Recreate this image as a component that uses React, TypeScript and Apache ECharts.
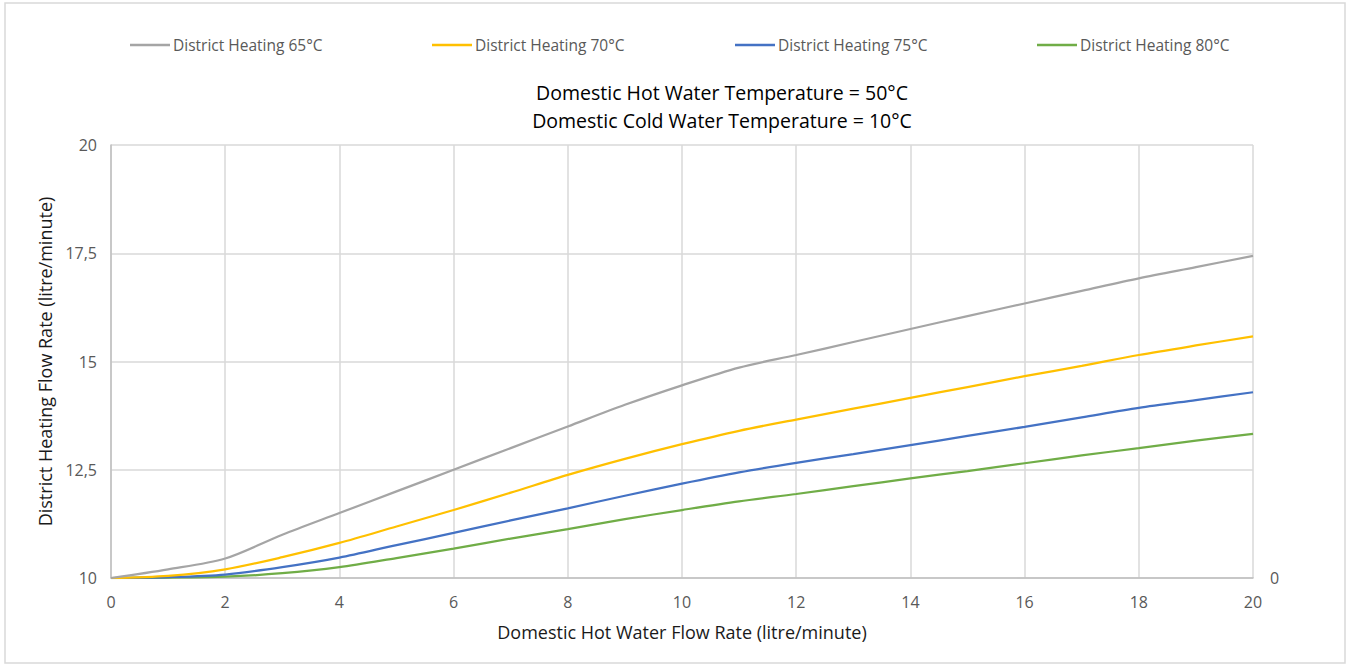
import React, { useEffect, useRef } from "react";
import * as echarts from "echarts";

const xValues = [0, 1, 2, 3, 4, 5, 6, 7, 8, 9, 10, 11, 12, 13, 14, 15, 16, 17, 18, 19, 20];
const dh65 = [10, 10.2, 10.45, 11.0, 11.5, 12.0, 12.5, 13.0, 13.5, 14.0, 14.45, 14.86, 15.15, 15.45, 15.75, 16.05, 16.34, 16.63, 16.92, 17.18, 17.44];
const dh70 = [10, 10.05, 10.2, 10.48, 10.81, 11.19, 11.57, 11.97, 12.38, 12.75, 13.09, 13.4, 13.66, 13.91, 14.16, 14.41, 14.66, 14.9, 15.15, 15.37, 15.58];
const dh75 = [10, 10.02, 10.08, 10.25, 10.47, 10.76, 11.04, 11.33, 11.61, 11.9, 12.18, 12.44, 12.66, 12.86, 13.07, 13.28, 13.49, 13.71, 13.93, 14.11, 14.29];
const dh80 = [10, 10.01, 10.03, 10.11, 10.25, 10.46, 10.68, 10.91, 11.13, 11.36, 11.57, 11.77, 11.94, 12.12, 12.3, 12.47, 12.65, 12.83, 13.0, 13.17, 13.33];

const seriesNames = ["District Heating 65°C", "District Heating 70°C", "District Heating 75°C", "District Heating 80°C"];
const seriesColors = ["#A5A5A5", "#FFC000", "#4472C4", "#70AD47"];
const seriesData = [dh65, dh70, dh75, dh80];
const titleLines = ["Domestic Hot Water Temperature = 50°C", "Domestic Cold Water Temperature = 10°C"];
const xAxisName = "Domestic Hot Water Flow Rate (litre/minute)";
const yAxisName = "District Heating Flow Rate (litre/minute)";

const FONT = "'Open Sans', 'Noto Sans', sans-serif";

export default function App() {
  const ref = useRef<HTMLDivElement>(null);
  useEffect(() => {
    document.body.style.margin = "0";
    const chart = echarts.init(ref.current!, null, { renderer: "svg" });
    const legendLefts = [130, 432, 735, 1037];
    chart.setOption({
      animation: false,
      backgroundColor: "#ffffff",
      textStyle: { fontFamily: FONT },
      legend: seriesNames.map((n, i) => ({
        data: [n],
        left: legendLefts[i],
        top: 37,
        icon: "rect",
        itemWidth: 40,
        itemHeight: 2.5,
        itemGap: 4,
        padding: 0,
        textStyle: { fontFamily: FONT, fontSize: 15.5, color: "#595959", padding: [0, 0, 0, -2] },
        selectedMode: false,
      })),
      grid: { left: 111, right: 101, top: 145, bottom: 88, containLabel: false },
      xAxis: {
        type: "value",
        min: 0,
        max: 20,
        interval: 2,
        name: xAxisName,
        nameLocation: "middle",
        nameGap: 45,
        nameTextStyle: { fontFamily: FONT, fontSize: 18, color: "#1a1a1a" },
        axisLine: { lineStyle: { color: "#bfbfbf", width: 1.5 } },
        axisTick: { show: false },
        axisLabel: { color: "#595959", fontSize: 16, margin: 16, fontFamily: FONT },
        splitLine: { show: true, lineStyle: { color: "#d9d9d9", width: 1.5 } },
      },
      yAxis: [
        {
          type: "value",
          min: 10,
          max: 20,
          interval: 2.5,
          name: yAxisName,
          nameLocation: "middle",
          nameGap: 57,
          nameRotate: 90,
          nameTextStyle: { fontFamily: FONT, fontSize: 18, color: "#1a1a1a" },
          axisLine: { show: true, lineStyle: { color: "#bfbfbf", width: 1.5 } },
          axisTick: { show: false },
          axisLabel: {
            color: "#595959",
            fontSize: 16,
            margin: 14,
            fontFamily: FONT,
            formatter: (v: number) => String(v).replace(".", ","),
          },
          splitLine: { show: true, lineStyle: { color: "#d9d9d9", width: 1.5 } },
        },
        {
          type: "value",
          min: 0,
          max: 1,
          interval: 1,
          position: "right",
          axisLine: { show: false },
          axisTick: { show: false },
          splitLine: { show: false },
          axisLabel: {
            color: "#595959",
            fontSize: 16,
            margin: 17,
            fontFamily: FONT,
            formatter: (v: number) => (v === 0 ? "0" : ""),
          },
        },
      ],
      graphic: [
        {
          type: "rect",
          shape: { x: 5, y: 3, width: 1340, height: 660 },
          style: { fill: "none", stroke: "#d9d9d9", lineWidth: 1.5 },
          silent: true,
        },
        ...titleLines.map((t, i) => ({
          type: "text",
          x: 722,
          y: 92 + i * 28,
          style: {
            text: t,
            fontFamily: FONT,
            fontSize: 19.5,
            fill: "#000000",
            textAlign: "center",
            textVerticalAlign: "middle",
          },
          silent: true,
        })),
      ],
      series: seriesNames.map((n, i) => ({
        name: n,
        type: "line",
        data: xValues.map((x, j) => [x, seriesData[i][j]]),
        smooth: 0.3,
        showSymbol: false,
        symbol: "none",
        itemStyle: { color: seriesColors[i] },
        lineStyle: { color: seriesColors[i], width: 2.25 },
        z: 10 - i,
      })),
    });
    return () => chart.dispose();
  }, []);
  return <div ref={ref} style={{ position: "absolute", left: 0, top: 0, width: 1354, height: 666 }} />;
}
